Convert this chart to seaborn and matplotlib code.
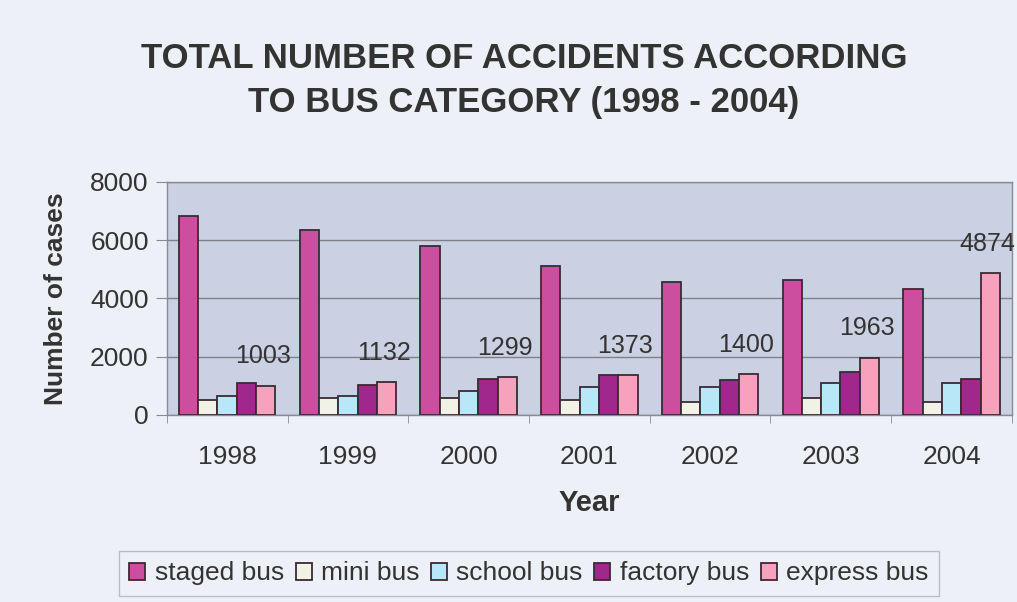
import pandas as pd
import matplotlib.pyplot as plt
import seaborn as sns

# data
years = ['1998', '1999', '2000', '2001', '2002', '2003', '2004']
categories = ['staged bus', 'mini bus', 'school bus', 'factory bus', 'express bus']
staged_bus = [6840, 6350, 5780, 5120, 4550, 4620, 4330]
mini_bus = [500, 570, 570, 500, 430, 570, 430]
school_bus = [650, 650, 800, 950, 950, 1090, 1090]
factory_bus = [1090, 1030, 1220, 1370, 1180, 1460, 1240]
express_bus = [1003, 1132, 1299, 1373, 1400, 1963, 4874]

colors = ['#cc4f9f', '#f1f1e6', '#b8e8f8', '#a0288c', '#f6a2bc']

rows = []
for cat, vals in zip(categories, [staged_bus, mini_bus, school_bus, factory_bus, express_bus]):
    for y, v in zip(years, vals):
        rows.append({'year': y, 'cases': v, 'category': cat})
df = pd.DataFrame(rows)

sns.set_style('white')
plt.rcParams['font.family'] = ['Liberation Sans', 'DejaVu Sans']

fig = plt.figure(figsize=(10.17, 6.02), dpi=100, facecolor='#eef0f8')
ax = fig.add_axes([0.164, 0.311, 0.831, 0.387])
ax.set_facecolor('#c9d1e2')

sns.barplot(data=df, x='year', y='cases', hue='category', palette=colors, saturation=1,
            width=0.8, edgecolor='#3a2a35', linewidth=1.3, ax=ax, zorder=3)

# labels on the express bus bars
for bar, v in zip(ax.containers[4], express_bus):
    ax.annotate(str(v), (bar.get_x() + bar.get_width() / 2, bar.get_height()),
                xytext=(-2, 21), textcoords='offset points', ha='center', va='center',
                fontsize=18, color='#333333', zorder=4)

ax.set_ylim(0, 8000)
ax.set_xlim(-0.5, 6.5)
ax.set_yticks([0, 2000, 4000, 6000, 8000])
ax.grid(axis='y', color='#7f8088', linewidth=1, zorder=0)
ax.set_axisbelow(True)
for s in ax.spines.values():
    s.set_color('#8a8a90')
    s.set_linewidth(1)

ax.tick_params(axis='y', labelsize=19, length=8, color='#8a8a90', labelcolor='#333333', pad=5, left=True)
ax.tick_params(axis='x', which='major', labelsize=19, length=0, labelcolor='#333333', pad=22)
ax.set_xticks([i + 0.5 for i in range(-1, 7)], minor=True)
ax.tick_params(axis='x', which='minor', length=6, color='#8a8a90', bottom=True)

ax.set_xlabel('Year', fontsize=21, fontweight='bold', color='#333333', labelpad=14)
ax.set_ylabel('Number of cases', fontsize=19, fontweight='bold', color='#333333', labelpad=16)

fig.suptitle('TOTAL NUMBER OF ACCIDENTS ACCORDING\nTO BUS CATEGORY (1998 - 2004)',
             x=0.515, y=0.93, fontsize=25, fontweight='bold', color='#333333', linespacing=1.4)

ax.legend_.remove()
handles = ax.containers
leg = fig.legend([c[0] for c in handles], categories, loc='lower center', bbox_to_anchor=(0.52, -0.012),
                 ncol=5, fontsize=19, frameon=True, fancybox=False, handlelength=0.6,
                 handleheight=0.6, handletextpad=0.35, columnspacing=0.45, borderpad=0.4,
                 labelcolor='#333333')
leg.get_frame().set_edgecolor('#b0b0b8')
leg.get_frame().set_facecolor('#eef0f8')

fig.savefig('out.png', dpi=100, facecolor=fig.get_facecolor())
